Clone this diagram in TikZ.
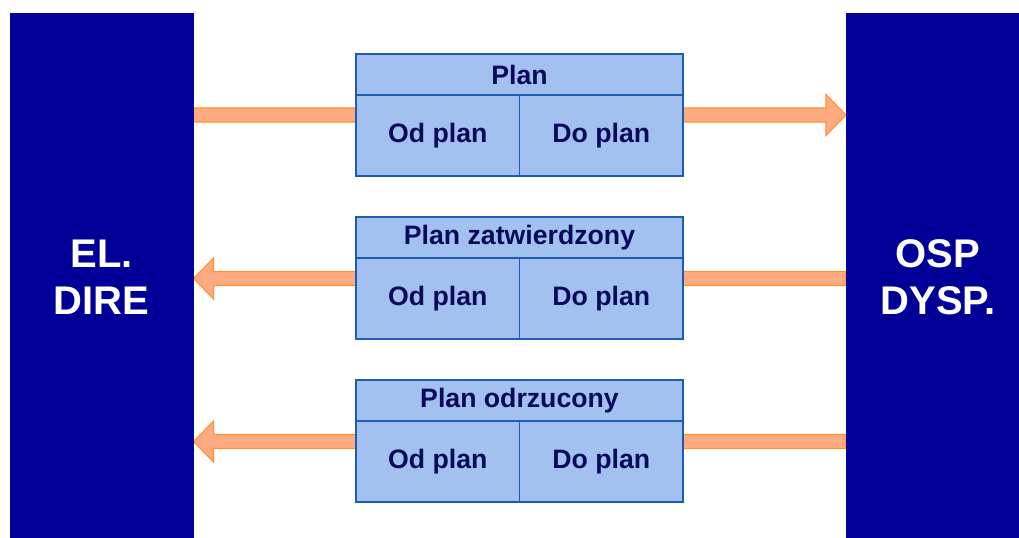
\documentclass[tikz,border=0pt]{standalone}
\usepackage{fontspec}
\setmainfont{Liberation Sans}
\usetikzlibrary{calc}
\usetikzlibrary{positioning}
\usetikzlibrary{backgrounds}
\definecolor{barblue}{RGB}{0,0,153}
\definecolor{boxfill}{RGB}{162,192,240}
\definecolor{boxline}{RGB}{30,92,176}
\definecolor{textnavy}{RGB}{10,10,90}
\definecolor{arrowfill}{RGB}{255,170,128}
\definecolor{arrowline}{RGB}{255,145,50}
% block arrows: tail, tip
\newcommand{\arrR}[2]{\filldraw[trans] ($(#1)+(0,-7)$) -- ($(#2)+(-20,-7)$) -- ($(#2)+(-20,-20.5)$) -- (#2)
  -- ($(#2)+(-20,20.5)$) -- ($(#2)+(-20,7)$) -- ($(#1)+(0,7)$) -- cycle;}
\newcommand{\arrL}[2]{\filldraw[trans] ($(#1)+(0,-7)$) -- ($(#2)+(20,-7)$) -- ($(#2)+(20,-20.5)$) -- (#2)
  -- ($(#2)+(20,20.5)$) -- ($(#2)+(20,7)$) -- ($(#1)+(0,7)$) -- cycle;}
\begin{document}
\begin{tikzpicture}[
      x=0.75pt, y=-0.75pt,
      bar/.style={fill=barblue,text=white,minimum width=138pt,minimum height=396pt,
        inner sep=0pt,outer sep=0pt,align=center,font=\fontsize{30}{35}\selectfont\bfseries},
      head/.style={draw=boxline,line width=1pt,fill=boxfill,text=textnavy,minimum width=245.25pt,
        minimum height=30.75pt,inner sep=0pt,outer sep=0pt,font=\fontsize{20}{24}\selectfont\bfseries},
      cell/.style={head,minimum width=122.625pt,minimum height=60.75pt},
      trans/.style={draw=arrowline,fill=arrowfill,line width=0.8pt},
    ]
    \useasboundingbox (0,0) rectangle (1019,537);
    % Draw the side blocks.
    \node[bar] (dire) at (101.5,277) {EL.\\DIRE};
    \node[bar] (osp) at (938,277) {OSP\\DYSP.};
    % Draw the plan boxes.
    \node[head] (plan) at (519.5,74.5) {Plan};
    \node[cell,below right=0pt and 0pt of plan.south west] (plan_od) {Od plan};
    \node[cell,right=0pt of plan_od.east] (plan_do) {Do plan};

    \node[head] (zatw) at (519.5,237.5) {Plan zatwierdzony};
    \node[cell,below right=0pt and 0pt of zatw.south west] (zatw_od) {Od plan};
    \node[cell,right=0pt of zatw_od.east] (zatw_do) {Do plan};

    \node[head] (odrz) at (519.5,400.5) {Plan odrzucony};
    \node[cell,below right=0pt and 0pt of odrz.south west] (odrz_od) {Od plan};
    \node[cell,right=0pt of odrz_od.east] (odrz_do) {Do plan};
    % Draw the arrows behind everything.
    \begin{scope}[on background layer]
      \fill[white] (0,0) rectangle (1019,537);
      \coordinate (A1_a) at (dire.east |- plan_od.north);
      \coordinate (A1_b) at ([shift={+(0,20)}] osp.west |- plan_od.north);
      \arrR{A1_a |- A1_b}{A1_b}
      \coordinate (A2_a) at ([shift={+(0,20.5)}] osp.west |- zatw_od.north);
      \coordinate (A2_b) at (dire.east |- A2_a);
      \arrL{A2_a}{A2_b}
      \coordinate (A3_a) at ([shift={+(0,20.5)}] osp.west |- odrz_od.north);
      \coordinate (A3_b) at (dire.east |- A3_a);
      \arrL{A3_a}{A3_b}
    \end{scope}
\end{tikzpicture}
\end{document}
